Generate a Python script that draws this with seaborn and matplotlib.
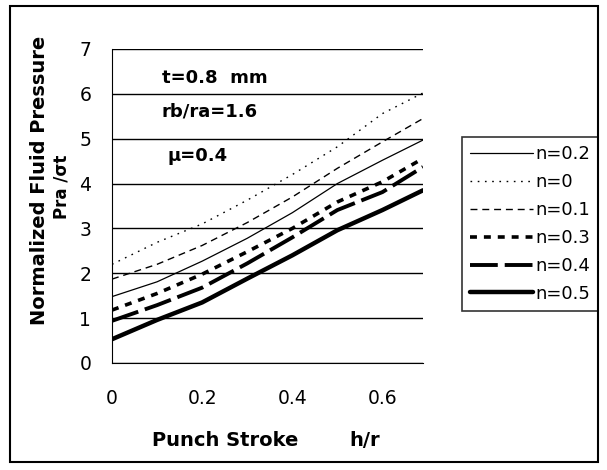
import numpy as np
import pandas as pd
import seaborn as sns
import matplotlib.pyplot as plt
from matplotlib.patches import Rectangle

# values
stroke = [0, 0.1, 0.2, 0.3, 0.4, 0.5, 0.6, 0.69]
p_n0 = [2.2, 2.69, 3.1, 3.63, 4.2, 4.82, 5.56, 6.02]
p_n01 = [1.87, 2.2, 2.62, 3.13, 3.7, 4.34, 4.93, 5.45]
p_n02 = [1.48, 1.81, 2.27, 2.78, 3.35, 4.0, 4.52, 4.97]
p_n03 = [1.18, 1.55, 1.98, 2.48, 3.0, 3.59, 4.04, 4.56]
p_n04 = [0.94, 1.29, 1.68, 2.22, 2.8, 3.41, 3.81, 4.37]
p_n05 = [0.53, 0.96, 1.35, 1.88, 2.4, 2.96, 3.41, 3.85]

labels = ['n=0.2', 'n=0', 'n=0.1', 'n=0.3', 'n=0.4', 'n=0.5']
series = [p_n02, p_n0, p_n01, p_n03, p_n04, p_n05]

sns.set_style("white")
plt.rcParams['font.family'] = ['DejaVu Sans']
plt.rcParams['text.color'] = 'black'
plt.rcParams['lines.scale_dashes'] = False

df = pd.DataFrame({'h/r': stroke * len(labels),
                   'p': np.concatenate(series),
                   'n': np.repeat(labels, len(stroke))})

styles = {
    'n=0.2': dict(lw=0.9, ls='-'),
    'n=0': dict(lw=1.0, ls=(0, (1.2, 4))),
    'n=0.1': dict(lw=1.0, ls=(0, (5, 3.5))),
    'n=0.3': dict(lw=2.6, ls=(0, (5, 5))),
    'n=0.4': dict(lw=2.8, ls=(0, (20, 5))),
    'n=0.5': dict(lw=3.2, ls='-'),
}

fig = plt.figure(figsize=(6.07, 4.70), dpi=100)
ax = fig.add_axes([112 / 607, 1 - 363 / 470, 311 / 607, 314 / 470])

for lab in labels:
    sub = df[df['n'] == lab]
    sns.lineplot(data=sub, x='h/r', y='p', ax=ax, color='black',
                 linewidth=styles[lab]['lw'], linestyle=styles[lab]['ls'],
                 label=lab)

ax.set_xlim(0, 0.69)
ax.set_ylim(0, 7)
ax.set_xticks([0, 0.2, 0.4, 0.6])
ax.set_xticklabels(['0', '0.2', '0.4', '0.6'])
ax.set_yticks(range(0, 8))
ax.yaxis.grid(True, color='black', lw=1)
ax.set_axisbelow(True)
for s in ['top', 'right']:
    ax.spines[s].set_visible(False)
ax.spines['left'].set_color('black')
ax.spines['bottom'].set_color('black')
ax.tick_params(axis='y', direction='inout', length=8, width=1, labelsize=13.5,
               pad=11, colors='black')
ax.tick_params(axis='x', direction='out', length=6, width=1, labelsize=13.5,
               pad=13, colors='black')
ax.set_xlabel('')
ax.set_ylabel('')

ax.text(0.11, 6.35, 't=0.8  mm', fontsize=13, fontweight='bold', va='center')
ax.text(0.11, 5.61, 'rb/ra=1.6', fontsize=13, fontweight='bold', va='center')
ax.text(0.124, 4.61, 'μ=0.4', fontsize=13, fontweight='bold', va='center')

fig.text(40 / 607, 1 - 180 / 470, 'Normalized Fluid Pressure', rotation=90,
         fontsize=14, fontweight='bold', ha='center', va='center')
fig.text(62 / 607, 1 - 187 / 470, 'Pra /σt', rotation=90,
         fontsize=12, fontweight='bold', ha='center', va='center')
fig.text(225 / 607, 1 - 440 / 470, 'Punch Stroke', fontsize=14,
         fontweight='bold', ha='center', va='center')
fig.text(365 / 607, 1 - 440 / 470, 'h/r', fontsize=14,
         fontweight='bold', ha='center', va='center')

leg = ax.legend(loc='upper left', bbox_to_anchor=(462 / 607, 1 - 137 / 470),
                bbox_transform=fig.transFigure, fontsize=13, frameon=True,
                fancybox=False, edgecolor='black', handlelength=3.5,
                handletextpad=0.1, labelspacing=0.55, borderpad=0.45,
                borderaxespad=0)
leg.get_frame().set_linewidth(1.2)

fig.patches.append(Rectangle((10 / 607, 1 - 462 / 470), 588 / 607, 456 / 470,
                             transform=fig.transFigure, fill=False,
                             edgecolor='black', lw=1.5))

fig.savefig('out.png', dpi=100)
